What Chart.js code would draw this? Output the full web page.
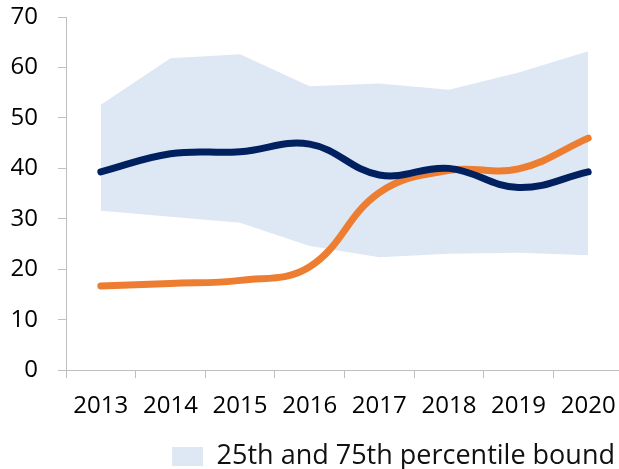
<!DOCTYPE html>
<html>
<head>
<meta charset="utf-8">
<script src="https://cdn.jsdelivr.net/npm/chart.js@4"></script>
<style>
  html, body { margin: 0; padding: 0; background: #fff; overflow: hidden; }
  #wrap { width: 623px; height: 469px; position: relative; }
</style>
</head>
<body>
<div id="wrap"><canvas id="chart"></canvas></div>
<script>
// Chart data
const years = ['2013', '2014', '2015', '2016', '2017', '2018', '2019', '2020'];
const navySeries = [39.3, 42.9, 43.3, 44.8, 38.7, 40.0, 36.2, 39.3];
const orangeSeries = [16.7, 17.2, 17.8, 20.5, 35.2, 39.6, 39.9, 46.0];
const upperBound = [52.6, 61.8, 62.6, 56.3, 56.8, 55.6, 59.0, 63.2];
const lowerBound = [31.6, 30.4, 29.2, 24.6, 22.4, 23.1, 23.3, 22.8];
const yTicks = { min: 0, max: 70, step: 10 };

const fontFamily = '"Open Sans", "Liberation Sans", sans-serif';
const axisGrey = '#BFBFBF';
const bandLabel = '25th and 75th percentile bound';

const ctx = document.getElementById('chart').getContext('2d');
new Chart(ctx, {
    type: 'line',
    data: {
        labels: years,
        datasets: [
            {
                label: 'navy',
                data: navySeries,
                borderColor: '#002060',
                borderWidth: 7,
                borderCapStyle: 'round',
                pointRadius: 0,
                tension: 0.4,
                fill: false
            },
            {
                label: 'orange',
                data: orangeSeries,
                borderColor: '#ED7D31',
                borderWidth: 7,
                borderCapStyle: 'round',
                pointRadius: 0,
                tension: 0.4,
                fill: false
            },
            {
                label: bandLabel,
                data: upperBound,
                borderWidth: 0,
                borderColor: 'rgba(0,0,0,0)',
                backgroundColor: '#DEE8F4',
                pointRadius: 0,
                tension: 0,
                fill: '+1'
            },
            {
                label: 'lower',
                data: lowerBound,
                borderWidth: 0,
                borderColor: 'rgba(0,0,0,0)',
                backgroundColor: '#DEE8F4',
                pointRadius: 0,
                tension: 0,
                fill: false
            }
        ]
    },
    options: {
        responsive: true,
        maintainAspectRatio: false,
        animation: false,
        layout: {
            padding: { left: 11, right: 0, top: 17, bottom: -11 }
        },
        scales: {
            x: {
                offset: true,
                // drop the extra side padding chart.js adds for tick labels
                afterFit: scale => {
                    scale.paddingLeft = 0;
                    scale.paddingRight = 0;
                },
                grid: {
                    offset: true,
                    drawOnChartArea: false,
                    drawTicks: true,
                    tickLength: 8,
                    color: axisGrey
                },
                border: { color: axisGrey, width: 1 },
                ticks: {
                    color: '#000',
                    padding: 14,
                    maxRotation: 0,
                    font: { family: fontFamily, size: 24 }
                }
            },
            y: {
                min: yTicks.min,
                max: yTicks.max,
                afterFit: scale => {
                    scale.width = 55;
                    scale.paddingTop = 0;
                },
                grid: {
                    drawOnChartArea: false,
                    drawTicks: true,
                    tickLength: 8,
                    color: axisGrey
                },
                border: { color: axisGrey, width: 1 },
                ticks: {
                    stepSize: yTicks.step,
                    color: '#000',
                    padding: 20,
                    font: { family: fontFamily, size: 24 }
                }
            }
        },
        plugins: {
            legend: {
                position: 'bottom',
                align: 'end',
                labels: {
                    color: '#111',
                    boxWidth: 31,
                    boxHeight: 19,
                    padding: 8,
                    font: { family: fontFamily, size: 27 },
                    filter: item => item.text === bandLabel
                }
            },
            tooltip: { enabled: false }
        }
    }
});
</script>
</body>
</html>
